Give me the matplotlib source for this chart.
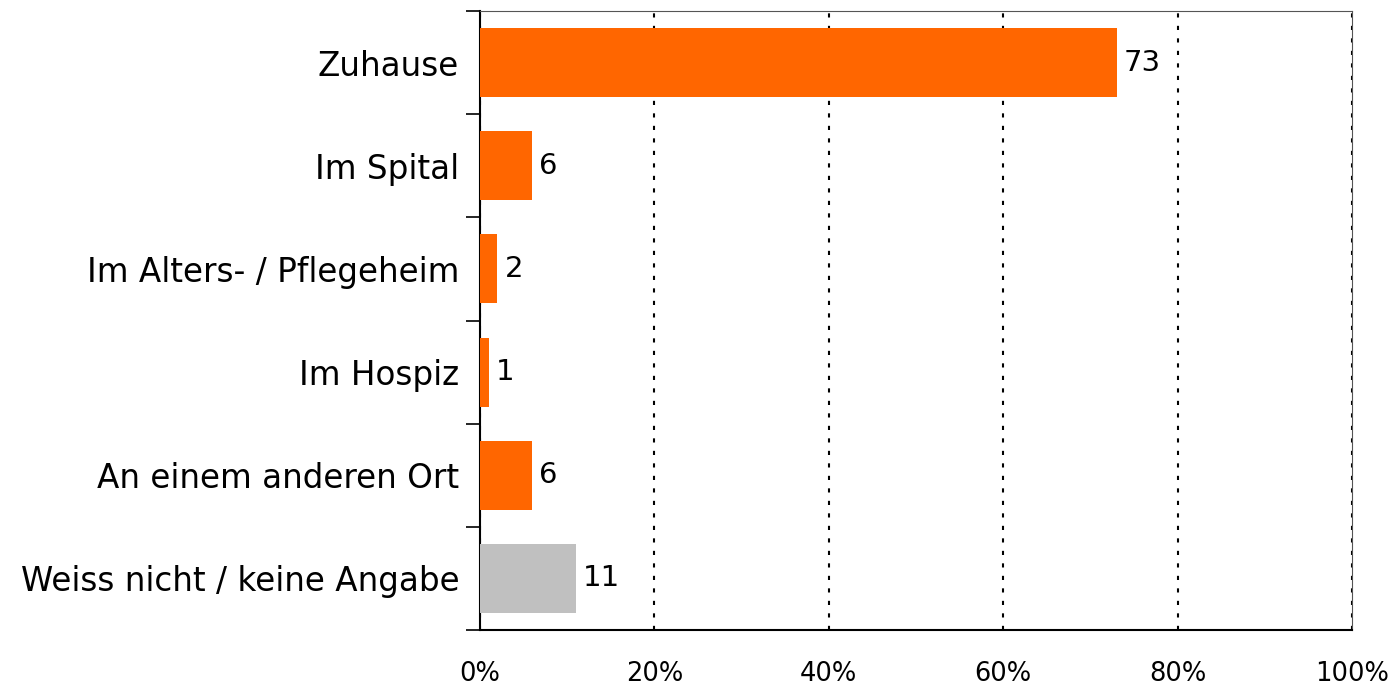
import numpy as np
import matplotlib.pyplot as plt

# Wo moechten Sie sterben? (Anteile in %)
categories = ['Zuhause', 'Im Spital', 'Im Alters- / Pflegeheim', 'Im Hospiz',
              'An einem anderen Ort', 'Weiss nicht / keine Angabe']
values = [73, 6, 2, 1, 6, 11]
bar_colors = ['#FF6600', '#FF6600', '#FF6600', '#FF6600', '#FF6600', '#C0C0C0']
xticks = [0, 20, 40, 60, 80, 100]

fig = plt.figure(figsize=(13.89, 6.85), dpi=100)
ax = fig.add_axes([0.3456, 0.0803, 0.9734 - 0.3456, 0.9839 - 0.0803])

y = np.arange(len(categories))
ax.barh(y, values, height=0.67, color=bar_colors, zorder=3)

for yi, v in zip(y, values):
    ax.text(v + 0.8, yi, str(v), va='center', ha='left', fontsize=21, zorder=4)

ax.set_xlim(0, 100)
ax.set_ylim(len(categories) - 0.5, -0.5)

# category labels without ticks, tick marks on the boundaries
ax.set_yticks(y)
ax.set_yticklabels(categories, fontsize=23.5)
ax.tick_params(axis='y', which='major', length=0, pad=15)
ax.set_yticks(np.arange(-0.5, len(categories)), minor=True)
ax.tick_params(axis='y', which='minor', length=10, width=1.2, color='black')

ax.set_xticks(xticks)
ax.set_xticklabels([f'{t}%' for t in xticks], fontsize=18.5)
ax.tick_params(axis='x', length=0, pad=22)

ax.grid(axis='x', linestyle=(0, (2, 4)), color='black', linewidth=1.5, zorder=0)

ax.spines['left'].set_linewidth(1.5)
ax.spines['bottom'].set_linewidth(1.5)
ax.spines['top'].set_color('#555555')
ax.spines['right'].set_color('#555555')

fig.savefig('out.png', dpi=100)
